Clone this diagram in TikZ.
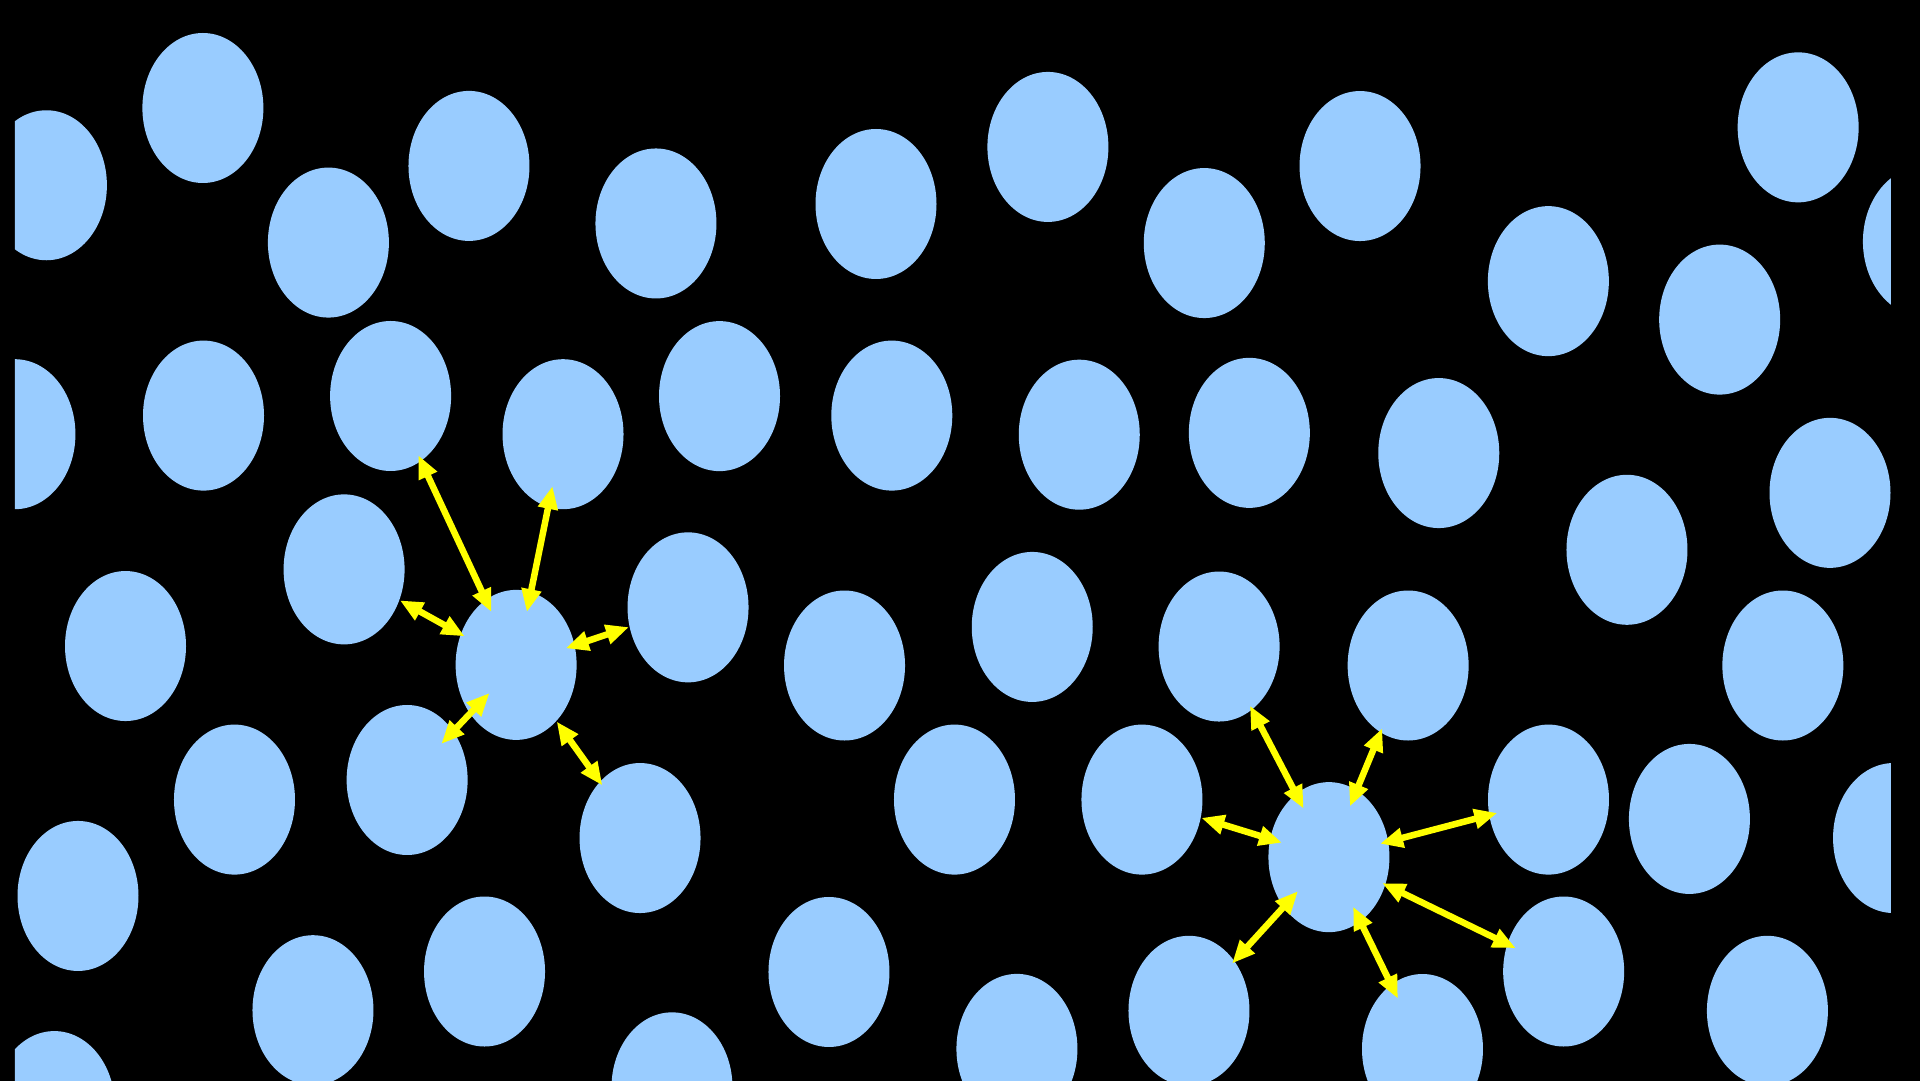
\documentclass[tikz,border=0pt]{standalone}
\usepackage{xcolor}
\usetikzlibrary{arrows.meta,shapes.geometric}
\definecolor{cellblue}{HTML}{99CCFF}
\definecolor{linkyellow}{HTML}{FFFF00}

\begin{document}
\begin{tikzpicture}[x=1.2245mm, y=-1.2245mm,
	cell/.style={ellipse, fill=cellblue, minimum width=12.1mm, minimum height=15mm, inner sep=0pt},
	link/.style 2 args={<->, >={Triangle[length=2.3mm,width=1.9mm]}, draw=linkyellow, line width=0.65mm, shorten <=-#1, shorten >=-#2}]
	\useasboundingbox (0,0) rectangle (156.8,88.28);
	\fill[black] (0,0) rectangle (156.8,88.28);
	\begin{scope}
	\clip (1.22,0) rectangle (154.43,88.28);
	% top rows
	\node[cell] (p1) at (3.79,15.13) {};
	\node[cell] (p2) at (16.57,8.82) {};
	\node[cell] (p3) at (26.82,19.81) {};
	\node[cell] (p4) at (38.30,13.55) {};
	\node[cell] (p5) at (53.57,18.25) {};
	\node[cell] (p6) at (71.54,16.66) {};
	\node[cell] (p7) at (85.58,12.00) {};
	\node[cell] (p8) at (98.35,19.85) {};
	\node[cell] (p9) at (111.07,13.56) {};
	\node[cell] (p10) at (126.45,22.96) {};
	\node[cell] (p11) at (146.85,10.40) {};
	\node[cell] (p12) at (140.44,26.10) {};
	\node[cell] (p13) at (157.08,19.72) {};
	\node[cell] (p14) at (1.22,35.46) {};
	\node[cell] (p15) at (16.62,33.94) {};
	\node[cell] (p16) at (31.90,32.34) {};
	\node[cell] (p17) at (45.98,35.46) {};
	\node[cell] (p18) at (58.76,32.35) {};
	\node[cell] (p19) at (72.83,33.94) {};
	\node[cell] (p20) at (88.14,35.50) {};
	\node[cell] (p21) at (102.03,35.35) {};
	\node[cell] (p22) at (117.50,37.00) {};
	\node[cell] (p23) at (132.87,44.90) {};
	\node[cell] (p24) at (149.45,40.25) {};
	% middle rows
	\node[cell] (p25) at (28.10,46.50) {};
	\node[cell] (p26) at (10.25,52.76) {};
	\node[cell] (ctrA) at (42.15,54.30) {};
	\node[cell] (p27) at (56.19,49.60) {};
	\node[cell] (p28) at (68.97,54.35) {};
	\node[cell] (p29) at (84.30,51.20) {};
	\node[cell] (p30) at (99.56,52.80) {};
	\node[cell] (p31) at (115.00,54.35) {};
	\node[cell] (p32) at (145.60,54.35) {};
	\node[cell] (p33) at (19.15,65.30) {};
	\node[cell] (p34) at (33.25,63.70) {};
	\node[cell] (p35) at (52.27,68.44) {};
	\node[cell] (p36) at (77.95,65.30) {};
	\node[cell] (p37) at (93.26,65.30) {};
	\node[cell] (ctrB) at (108.53,70.00) {};
	\node[cell] (p38) at (126.46,65.30) {};
	\node[cell] (p39) at (137.97,66.88) {};
	\node[cell] (p40) at (154.64,68.44) {};
	% bottom rows
	\node[cell] (p41) at (6.37,73.17) {};
	\node[cell] (p42) at (25.56,82.50) {};
	\node[cell] (p43) at (39.57,79.34) {};
	\node[cell] (p44) at (67.70,79.38) {};
	\node[cell] (p45) at (83.05,85.66) {};
	\node[cell] (p46) at (97.10,82.55) {};
	\node[cell] (p47) at (116.17,85.67) {};
	\node[cell] (p48) at (127.70,79.34) {};
	\node[cell] (p49) at (144.34,82.55) {};
	\node[cell] (p50) at (4.44,90.33) {};
	\node[cell] (p51) at (54.88,88.80) {};
	\end{scope}
	
	% neighbours of the left cell
	\draw[link={1.4mm}{0.7mm}] (ctrA) -- (p16);
	\draw[link={2.1mm}{2.2mm}] (ctrA) -- (p17);
	\draw[link={0.5mm}{0mm}] (ctrA) -- (p25);
	\draw[link={1mm}{0mm}] (ctrA) -- (p27);
	\draw[link={2.9mm}{1.8mm}] (ctrA) -- (p34);
	\draw[link={0mm}{0.5mm}] (ctrA) -- (p35);
	% neighbours of the right cell
	\draw[link={1.7mm}{0.5mm}] (ctrB) -- (p30);
	\draw[link={1.8mm}{0.5mm}] (ctrB) -- (p31);
	\draw[link={1.3mm}{0mm}] (ctrB) -- (p37);
	\draw[link={0.9mm}{0.9mm}] (ctrB) -- (p38);
	\draw[link={0.4mm}{1mm}] (ctrB) -- (p48);
	\draw[link={2.2mm}{0.4mm}] (ctrB) -- (p46);
	\draw[link={1.7mm}{1.6mm}] (ctrB) -- (p47);
\end{tikzpicture}
\end{document}
